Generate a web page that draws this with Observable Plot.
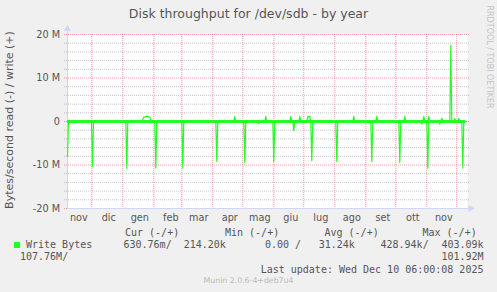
<!DOCTYPE html>
<html>
<head>
<meta charset="utf-8">
<script src="https://cdn.jsdelivr.net/npm/d3@7"></script>
<script src="https://cdn.jsdelivr.net/npm/@observablehq/plot@0.6"></script>
<style>
  html, body { margin: 0; padding: 0; background: #f0f0f0; }
  #wrap { position: relative; width: 497px; height: 292px; background: #f0f0f0; overflow: hidden; }
  #wrap svg { position: absolute; left: 0; top: 0; }
  .t { position: absolute; white-space: pre; line-height: 12px; color: #555; }
  .mono { font-family: "DejaVu Sans Mono", monospace; font-size: 10px; }
</style>
</head>
<body>
<div id="wrap"></div>
<script>
// ---- data ----
const timeStart = "2024-11-06T17:00Z";
const timeEnd = "2025-12-11T17:00Z";

const readDates = [
  "2024-11-06T17:00Z","2024-11-07T17:00Z",
  "2024-11-30T17:00Z","2024-12-01T17:00Z","2024-12-02T17:00Z",
  "2025-01-04","2025-01-05","2025-01-06",
  "2025-02-02","2025-02-03","2025-02-04",
  "2025-03-01","2025-03-02","2025-03-03",
  "2025-04-04","2025-04-05","2025-04-06",
  "2025-05-02","2025-05-03","2025-05-04",
  "2025-05-16","2025-05-17","2025-05-18",
  "2025-05-31","2025-06-01","2025-06-02",
  "2025-06-20","2025-06-21","2025-06-22",
  "2025-07-08","2025-07-09","2025-07-10",
  "2025-08-02","2025-08-03","2025-08-04",
  "2025-09-06","2025-09-07","2025-09-08",
  "2025-10-04","2025-10-05","2025-10-06",
  "2025-10-26","2025-10-27","2025-10-28",
  "2025-11-01","2025-11-02","2025-11-03",
  "2025-11-13","2025-11-14","2025-11-15",
  "2025-12-06","2025-12-07","2025-12-08",
  "2025-12-10"
];
const readValues = [
  -8.0e6, 0,
  0, -10.4e6, 0,
  0, -10.8e6, 0,
  0, -10.7e6, 0,
  0, -10.7e6, 0,
  0, -9.2e6, 0,
  0, -9.4e6, 0,
  0, -0.5e6, 0,
  0, -9.2e6, 0,
  0, -2.1e6, 0,
  0, -9.0e6, 0,
  0, -9.2e6, 0,
  0, -9.2e6, 0,
  0, -9.4e6, 0,
  0, -0.6e6, 0,
  0, -10.7e6, 0,
  0, -0.6e6, 0,
  0, -10.7e6, 0,
  0
];

const writeDates = [
  "2024-11-06T17:00Z",
  "2025-01-20","2025-01-22","2025-01-25","2025-01-28","2025-01-30",
  "2025-04-22","2025-04-23","2025-04-24",
  "2025-05-23","2025-05-24","2025-05-25",
  "2025-06-17","2025-06-18","2025-06-19",
  "2025-06-26","2025-06-27","2025-06-28",
  "2025-07-04","2025-07-05","2025-07-06","2025-07-07","2025-07-08",
  "2025-08-19","2025-08-20","2025-08-21",
  "2025-09-11","2025-09-12","2025-09-13",
  "2025-10-09","2025-10-10","2025-10-11",
  "2025-10-28","2025-10-29","2025-10-30",
  "2025-11-02","2025-11-03","2025-11-04",
  "2025-11-15","2025-11-16","2025-11-17",
  "2025-11-24","2025-11-25","2025-11-26",
  "2025-11-28","2025-11-29","2025-11-30",
  "2025-12-02","2025-12-03","2025-12-04",
  "2025-12-10"
];
const writeValues = [
  0,
  0, 1.0e6, 1.2e6, 1.0e6, 0,
  0, 1.2e6, 0,
  0, 1.2e6, 0,
  0, 1.2e6, 0,
  0, 1.2e6, 0,
  0, 1.2e6, 1.0e6, 1.2e6, 0,
  0, 1.2e6, 0,
  0, 1.2e6, 0,
  0, 1.2e6, 0,
  0, 1.2e6, 0,
  0, 1.2e6, 0,
  0, 0.8e6, 0,
  0, 17.5e6, 0,
  0, 0.7e6, 0,
  0, 0.7e6, 0,
  0
];

const monthStarts = ["2024-12-01","2025-01-01","2025-02-01","2025-03-01","2025-04-01","2025-05-01",
  "2025-06-01","2025-07-01","2025-08-01","2025-09-01","2025-10-01","2025-11-01","2025-12-01"];
const monthLabelDates = ["2024-11-18","2024-12-18","2025-01-18","2025-02-18","2025-03-18","2025-04-18",
  "2025-05-18","2025-06-18","2025-07-18","2025-08-18","2025-09-18","2025-10-18","2025-11-18"];
const monthNames = ["nov","dic","gen","feb","mar","apr","mag","giu","lug","ago","set","ott","nov"];

const yMajorTicks = [-20e6, -10e6, 0, 10e6, 20e6];
const yTickLabels = ["-20 M", "-10 M", "0", "10 M", "20 M"];
const yMinorTicks = [-18e6,-16e6,-14e6,-12e6,-8e6,-6e6,-4e6,-2e6,2e6,4e6,6e6,8e6,12e6,14e6,16e6,18e6];
const yAxisTop = 21.3e6;
const xAxisEnd = "2025-12-14T17:00Z";

// ---- build ----
const D = (s) => new Date(s.length === 10 ? s + "T00:00Z" : s);
const read = readDates.map((d, i) => ({date: D(d), v: readValues[i]}));
const write = writeDates.map((d, i) => ({date: D(d), v: writeValues[i]}));
const green = "#22ff22";
const majorGrid = "rgba(222,79,79,0.55)";
const minorGrid = "rgba(143,143,143,0.5)";
const axisCol = "#CFD6F8";

const chart = Plot.plot({
  width: 497, height: 292,
  marginLeft: 67, marginRight: 30, marginTop: 34, marginBottom: 84,
  x: {type: "utc", domain: [D(timeStart), D(timeEnd)], axis: null},
  y: {domain: [-20e6, 20e6], axis: null},
  style: {background: "transparent", overflow: "visible", fontFamily: "DejaVu Sans", fontSize: "9.7px", color: "#555"},
  marks: [
    Plot.frame({fill: "white", stroke: null}),
    Plot.ruleY(yMinorTicks, {stroke: minorGrid, strokeDasharray: "1,1", insetLeft: -3, insetRight: -2}),
    Plot.ruleY(yMajorTicks, {stroke: majorGrid, strokeDasharray: "1,1", insetLeft: -3, insetRight: -2}),
    Plot.ruleX(monthStarts.map(D), {stroke: majorGrid, strokeDasharray: "1,1", insetBottom: -2}),
    Plot.ruleX([D(timeStart)], {y1: -20e6, y2: yAxisTop, stroke: axisCol}),
    Plot.ruleY([-20e6], {x1: D(timeStart), x2: D(xAxisEnd), stroke: axisCol}),
    Plot.dot([0], {x: () => D(timeStart), y: () => yAxisTop, symbol: "triangle", r: 2.6, fill: axisCol, stroke: null}),
    Plot.dot([0], {x: () => D(xAxisEnd), y: () => -20e6, symbol: "triangle", r: 2.6, rotate: 90, fill: axisCol, stroke: null}),
    Plot.ruleY([0], {x1: () => read[0].date, x2: () => read[read.length - 1].date, stroke: green, strokeWidth: 3}),
    Plot.line(read, {x: "date", y: "v", stroke: green, strokeWidth: 1.2}),
    Plot.line(write, {x: "date", y: "v", stroke: green, strokeWidth: 1.2}),
    Plot.text(yTickLabels, {y: (d, i) => yMajorTicks[i], frameAnchor: "left", dx: -7.5, textAnchor: "end", fill: "#555"}),
    Plot.text(monthNames, {x: (d, i) => D(monthLabelDates[i]), frameAnchor: "bottom", dy: 9, lineAnchor: "middle", fill: "#555", fontSize: 9.7})
  ]
});

const wrap = document.getElementById("wrap");
wrap.appendChild(chart);

function addText(txt, left, cy, cls, extra) {
  const el = document.createElement("div");
  el.className = "t " + (cls || "");
  el.textContent = txt;
  el.style.left = left + "px";
  el.style.top = (cy - 6) + "px";
  if (extra) Object.assign(el.style, extra);
  wrap.appendChild(el);
  return el;
}

// title
addText("Disk throughput for /dev/sdb - by year", 0, 14, "", {width: "497px", textAlign: "center", fontFamily: "DejaVu Sans", fontSize: "12.5px", lineHeight: "12px"});
// y label (rotated)
addText("Bytes/second read (-) / write (+)", -90, 120, "", {width: "200px", textAlign: "center", fontFamily: "DejaVu Sans", fontSize: "11px", transform: "rotate(-90deg)", transformOrigin: "100px 6px"});
// rrdtool credit
addText("RRDTOOL / TOBI OETIKER", 389, 57, "", {width: "200px", textAlign: "center", fontFamily: "DejaVu Sans", fontSize: "8px", color: "#c4c4c4", transform: "rotate(90deg)", transformOrigin: "100px 6px"});

// legend
const sq = document.createElement("div");
Object.assign(sq.style, {position: "absolute", left: "14px", top: "242px", width: "6px", height: "6px", background: green});
wrap.appendChild(sq);

const legendHeaders = ["Cur (-/+)", "Min (-/+)", "Avg (-/+)", "Max (-/+)"];
const headerX = [125, 225, 324.5, 422.5];
legendHeaders.forEach((h, i) => addText(h, headerX[i], 233.3, "mono"));

const seriesName = "Write Bytes";
const row1 = ["630.76m/", "214.20k", "0.00 /", "31.24k", "428.94k/", "403.09k"];
const row1X = [123.5, 183.7, 265, 318.7, 380.5, 441.4];
addText(seriesName, 26, 245.3, "mono");
row1.forEach((s, i) => addText(s, row1X[i], 245.3, "mono"));
addText("107.76M/", 20, 257.3, "mono");
addText("101.92M", 441.4, 257.3, "mono");
addText("Last update: Wed Dec 10 06:00:08 2025", 260.7, 269.7, "mono");
addText("Munin 2.0.6-4+deb7u4", 0, 281, "", {width: "497px", textAlign: "center", fontFamily: "DejaVu Sans", fontSize: "7.8px", color: "#bbb"});
</script>
</body>
</html>
